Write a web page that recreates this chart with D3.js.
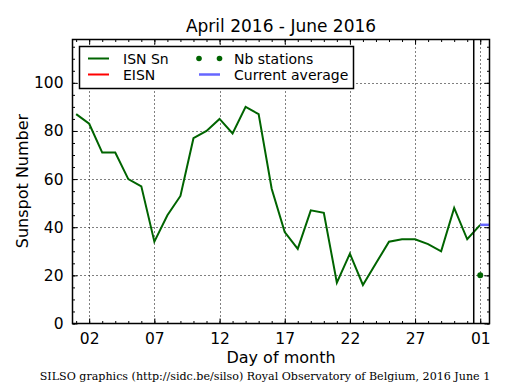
<!DOCTYPE html>
<html>
<head>
<meta charset="utf-8">
<script src="https://cdn.jsdelivr.net/npm/d3@7"></script>
<style>
html,body{margin:0;padding:0;background:#fff;}
svg{display:block;}
text{font-family:"DejaVu Sans",sans-serif;fill:#000;}
</style>
</head>
<body>
<svg id="chart" width="515" height="390"></svg>
<script>
// Data: day of month (May 1 .. June 1 -> 32)
const days = [1,2,3,4,5,6,7,8,9,10,11,12,13,14,15,16,17,18,19,20,21,22,23,24,25,26,27,28,29,30,31,32];
const isnSn = [87,83,71,71,60,57,34,45,53,77,80,85,79,90,87,56,38,31,47,46,17,29,16,25,34,35,35,33,30,48,35,41];
const nbStationsDays = [32];
const nbStations = [20];
const currentAverage = 41;
const currentAvgRange = [32, 32.71];
const monthBoundary = 31.5;
const xTickValues = [2,7,12,17,22,27,32];
const xTickLabels = ["02","07","12","17","22","27","01"];
const yTickValues = [0,20,40,60,80,100];
const legendItems = [
  {label:"ISN Sn", kind:"line", color:"#006400"},
  {label:"EISN", kind:"line", color:"#ff0000"},
  {label:"Nb stations", kind:"dots", color:"#006400"},
  {label:"Current average", kind:"line", color:"#6666ff"}
];

const svg = d3.select("#chart");
const L = 72.5, R = 489.5, T = 39.5, B = 323.5;
const x = d3.scaleLinear().domain([0.72, 32.71]).range([L, R]);
const y = d3.scaleLinear().domain([0, 118]).range([B, T]);

// grid
const grid = svg.append("g").attr("stroke","#000").attr("stroke-width",1).attr("stroke-dasharray","1,3");
grid.selectAll("line.gx").data(xTickValues).join("line")
  .attr("x1", d=>Math.round(x(d))+0.5).attr("x2", d=>Math.round(x(d))+0.5)
  .attr("y1", T).attr("y2", B);
grid.selectAll("line.gy").data(yTickValues.filter(d=>d>0)).join("line")
  .attr("y1", d=>Math.round(y(d))+0.5).attr("y2", d=>Math.round(y(d))+0.5)
  .attr("x1", L).attr("x2", R);

// data line
const line = d3.line().x((d,i)=>x(days[i])).y(d=>y(d));
svg.append("path").datum(isnSn).attr("d", line)
  .attr("fill","none").attr("stroke","#006400").attr("stroke-width",2).attr("stroke-linejoin","miter");

// current average
svg.append("line").attr("x1", x(currentAvgRange[0])).attr("x2", x(currentAvgRange[1]))
  .attr("y1", y(currentAverage)).attr("y2", y(currentAverage))
  .attr("stroke","#6666ff").attr("stroke-width",2.5);

// nb stations
svg.selectAll("circle.nb").data(nbStations).join("circle")
  .attr("cx",(d,i)=>x(nbStationsDays[i])).attr("cy", d=>y(d)).attr("r",3)
  .attr("fill","#006400");

// month boundary
svg.append("line").attr("x1", x(monthBoundary)).attr("x2", x(monthBoundary))
  .attr("y1", T).attr("y2", B).attr("stroke","#000").attr("stroke-width",1.5);

// ticks (inside) using d3 axes
const minorX = d3.range(1, 33);
const minorY = d3.range(0, 120, 5);
function styleAxis(g){ g.select(".domain").remove(); g.selectAll("line").attr("stroke","#000"); }
svg.append("g").attr("transform",`translate(0,${B})`)
  .call(d3.axisBottom(x).tickValues(minorX).tickSize(-2.5).tickFormat("")).call(styleAxis);
svg.append("g").attr("transform",`translate(0,${T})`)
  .call(d3.axisTop(x).tickValues(minorX).tickSize(-2.5).tickFormat("")).call(styleAxis);
svg.append("g").attr("transform",`translate(0,${B})`)
  .call(d3.axisBottom(x).tickValues(xTickValues).tickSize(-5).tickPadding(9)
    .tickFormat((d,i)=>xTickLabels[i])).call(styleAxis)
  .selectAll("text").attr("font-size",15.5).attr("font-family","DejaVu Sans");
svg.append("g").attr("transform",`translate(0,${T})`)
  .call(d3.axisTop(x).tickValues(xTickValues).tickSize(-5).tickFormat("")).call(styleAxis);
svg.append("g").attr("transform",`translate(${L},0)`)
  .call(d3.axisLeft(y).tickValues(minorY).tickSize(-2.5).tickFormat("")).call(styleAxis);
svg.append("g").attr("transform",`translate(${R},0)`)
  .call(d3.axisRight(y).tickValues(minorY).tickSize(-2.5).tickFormat("")).call(styleAxis);
svg.append("g").attr("transform",`translate(${L},0)`)
  .call(d3.axisLeft(y).tickValues(yTickValues).tickSize(-5).tickPadding(9)).call(styleAxis)
  .selectAll("text").attr("font-size",15.5).attr("font-family","DejaVu Sans");
svg.append("g").attr("transform",`translate(${R},0)`)
  .call(d3.axisRight(y).tickValues(yTickValues).tickSize(-5).tickFormat("")).call(styleAxis);

// frame
svg.append("rect").attr("x",L).attr("y",T).attr("width",R-L).attr("height",B-T)
  .attr("fill","none").attr("stroke","#000").attr("stroke-width",1.5);

// legend
const lg = svg.append("g");
lg.append("rect").attr("x",79.5).attr("y",46.5).attr("width",274).attr("height",42)
  .attr("fill","#fff").attr("stroke","#000").attr("stroke-width",1.5);
const legPos = [[88,58.5,123],[88,74.5,123],[199,58.5,234],[199,74.5,234]];
legendItems.forEach((it,i)=>{
  const [lx,ly,tx] = legPos[i];
  if(it.kind==="line"){
    lg.append("line").attr("x1",lx).attr("x2",lx+21).attr("y1",ly).attr("y2",ly)
      .attr("stroke",it.color).attr("stroke-width", it.color==="#6666ff"?2.5:2);
  } else {
    lg.append("circle").attr("cx",lx).attr("cy",ly).attr("r",2.8).attr("fill",it.color);
    lg.append("circle").attr("cx",lx+20.5).attr("cy",ly).attr("r",2.8).attr("fill",it.color);
  }
  lg.append("text").attr("x",tx).attr("y",ly+5).attr("font-size",14).text(it.label);
});

// titles
svg.append("text").attr("x",281).attr("y",32).attr("text-anchor","middle").attr("font-size",17)
  .text("April 2016 - June 2016");
svg.append("text").attr("x",281).attr("y",363).attr("text-anchor","middle").attr("font-size",16)
  .text("Day of month");
svg.append("text").attr("transform","translate(28,181) rotate(-90)").attr("text-anchor","middle")
  .attr("font-size",16).text("Sunspot Number");
svg.append("text").attr("x",265).attr("y",380).attr("text-anchor","middle").attr("font-size",11.1)
  .attr("font-family","DejaVu Serif").style("font-family","DejaVu Serif")
  .text("SILSO graphics (http://sidc.be/silso) Royal Observatory of Belgium, 2016 June 1");
</script>
</body>
</html>
